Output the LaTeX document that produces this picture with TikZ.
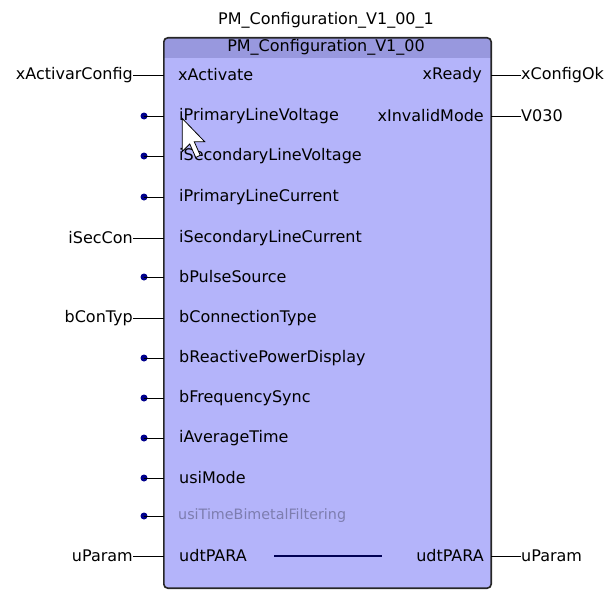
\documentclass[tikz,border=0pt]{standalone}
\usepackage{fontspec}
\setmainfont{DejaVu Sans}
\usepackage{xcolor}
\usetikzlibrary{positioning}
\definecolor{fbfill}{RGB}{180,180,250}
\definecolor{fbhead}{RGB}{152,152,222}
\definecolor{pinblue}{RGB}{0,0,140}
\definecolor{greytext}{RGB}{125,125,175}
\begin{document}
\begin{tikzpicture}[x=1pt,y=-1pt,
  lbl/.style={font=\fontsize{16}{18}\selectfont, inner sep=0pt, text=black},
  inpin/.style={lbl, anchor=west},
  outpin/.style={lbl, anchor=east},
  invar/.style={lbl, anchor=east},
  outvar/.style={lbl, anchor=west},
  pindot/.style={circle, fill=pinblue, inner sep=0pt, minimum size=7pt},
  wire/.style={black, line width=0.9pt}]
\useasboundingbox (0,0) rectangle (608,594);
\node[fill=fbfill, rounded corners=4pt, inner sep=0pt, minimum width=327pt, minimum height=550pt] (fb) at (327.5,313) {};
\fill[fbhead] (164,58) [rounded corners=4pt] -- (164,38) -- (491,38) [sharp corners] -- (491,58) -- cycle;
\draw[black!85, line width=1.6pt, rounded corners=4pt] (fb.north west) rectangle (fb.south east);
\node[lbl] (inst) at (326,20) {PM\_Configuration\_V1\_00\_1};
\node[lbl] (head) at (326,47) {PM\_Configuration\_V1\_00};

\node[inpin] (xAct) at (178,75) {xActivate};
\node[inpin] (iPLV) at (179,116) {iPrimaryLineVoltage};
\node[inpin] (iSLV) at (179,156) {iSecondaryLineVoltage};
\node[inpin] (iPLC) at (179,197) {iPrimaryLineCurrent};
\node[inpin] (iSLC) at (179,238) {iSecondaryLineCurrent};
\node[inpin] (bPS) at (179,277) {bPulseSource};
\node[inpin] (bCT) at (179,318) {bConnectionType};
\node[inpin] (bRPD) at (179,358) {bReactivePowerDisplay};
\node[inpin] (bFS) at (179,398) {bFrequencySync};
\node[inpin] (iAT) at (179,438) {iAverageTime};
\node[inpin] (usiM) at (179,478) {usiMode};
\node[inpin, text=greytext, font=\fontsize{14.3}{16}\selectfont] (usiTBF) at (178,516) {usiTimeBimetalFiltering};
\node[inpin] (udtIn) at (179,556) {udtPARA};

\node[outpin] (xRdy) at (482,75) {xReady};
\node[outpin] (xIM) at (484,116) {xInvalidMode};
\node[outpin] (udtOut) at (484,556) {udtPARA};

\node[invar] (vAct) at (133,75) {xActivarConfig};
\node[invar] (vSec) at (133,238) {iSecCon};
\node[invar] (vCon) at (133,318) {bConTyp};
\node[invar] (vPar) at (133,556) {uParam};

\node[pindot] (d1) at (144,116) {};
\node[pindot] (d2) at (144,156) {};
\node[pindot] (d3) at (144,197) {};
\node[pindot] (d4) at (144,277) {};
\node[pindot] (d5) at (144,358) {};
\node[pindot] (d6) at (144,398) {};
\node[pindot] (d7) at (144,438) {};
\node[pindot] (d8) at (144,478) {};
\node[pindot] (d9) at (144,516) {};

\node[outvar] (vOk) at (521,75) {xConfigOk};
\node[outvar] (vMode) at (521,116) {V030};
\node[outvar] (vParOut) at (521,556) {uParam};

\draw[wire] (vAct.east) -- (fb.west |- vAct.east);
\draw[wire] (vSec.east) -- (fb.west |- vSec.east);
\draw[wire] (vCon.east) -- (fb.west |- vCon.east);
\draw[wire] (vPar.east) -- (fb.west |- vPar.east);
\foreach \d in {d1,d2,d3,d4,d5,d6,d7,d8,d9}
  \draw[wire] (\d.center) -- (fb.west |- \d.center);
\draw[wire] (fb.east |- vOk.west) -- (vOk.west);
\draw[wire] (fb.east |- vMode.west) -- (vMode.west);
\draw[wire] (fb.east |- vParOut.west) -- (vParOut.west);

\coordinate (thruA) at (274,556);
\coordinate (thruB) at (382,556);
\draw[pinblue!60!black, line width=1.3pt] (thruA) -- (thruB);

\draw[fill=white, line width=0.8pt, line join=miter, scale=1.5] (121.5,79) -- ++(0,22) -- ++(5,-5) -- ++(4,9) -- ++(3,-1.5) -- ++(-4,-9) -- ++(7,0) -- cycle;
\end{tikzpicture}
\end{document}
